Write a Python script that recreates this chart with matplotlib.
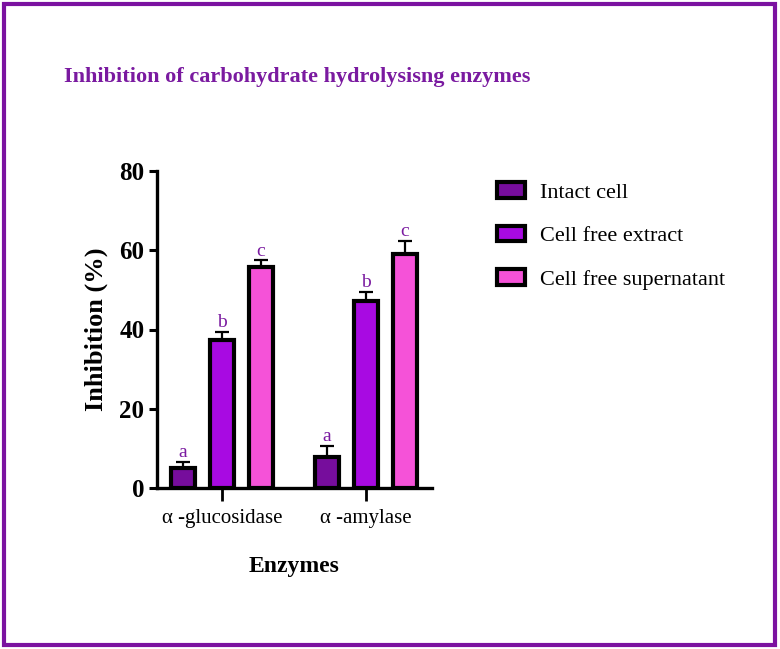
import numpy as np
import matplotlib.pyplot as plt
from matplotlib.patches import Rectangle

plt.rcParams['font.family'] = ['Liberation Serif', 'DejaVu Serif']

enzymes = ['\u03b1 -glucosidase', '\u03b1 -amylase']
series = ['Intact cell', 'Cell free extract', 'Cell free supernatant']
intact = [5.1, 7.9]
extract = [37.3, 47.2]
supernatant = [55.7, 59.1]
intact_err = [1.5, 2.8]
extract_err = [2.1, 2.3]
supernatant_err = [1.8, 3.3]
letters = [['a', 'a'], ['b', 'b'], ['c', 'c']]

colors = ['#760d9c', '#a80ae2', '#f552d8']
purple = '#7a1aa0'

fig = plt.figure(figsize=(7.8, 6.49), dpi=100)
ax = fig.add_axes([157/780, 1 - 488/649, 275/780, 317/649])

x = np.arange(len(enzymes))
offs = [-0.27, 0.0, 0.27]
width = 0.165
vals = [intact, extract, supernatant]
errs = [intact_err, extract_err, supernatant_err]

for i in range(3):
    ax.bar(x + offs[i], vals[i], width, color=colors[i], edgecolor='black',
           linewidth=3, label=series[i], zorder=3)
    ax.errorbar(x + offs[i], vals[i], yerr=[np.zeros(2), errs[i]], fmt='none',
                ecolor='black', elinewidth=1.6, capsize=5, capthick=1.6, zorder=2)
    for j in range(2):
        ax.text(x[j] + offs[i], vals[i][j] + errs[i][j] + 0.1, letters[i][j],
                ha='center', va='bottom', fontsize=14, color=purple)

ax.set_xlim(-0.45, 1.46)
ax.set_ylim(0, 80)
ax.set_yticks([0, 20, 40, 60, 80])
ax.set_xticks(x)
ax.set_xticklabels(enzymes, fontsize=15)
for lab in ax.get_yticklabels():
    lab.set_fontsize(18)
    lab.set_fontweight('bold')
ax.tick_params(axis='y', length=6, width=2.2, pad=3)
ax.tick_params(axis='x', length=9, width=2, pad=6)
for s in ['top', 'right']:
    ax.spines[s].set_visible(False)
for s in ['left', 'bottom']:
    ax.spines[s].set_linewidth(2.4)

ax.set_ylabel('Inhibition (%)', fontsize=19, fontweight='bold', labelpad=8)
ax.set_xlabel('Enzymes', fontsize=17, fontweight='bold', labelpad=20)

fig.text(297/780, 1 - 77/649, 'Inhibition of carbohydrate hydrolysisng enzymes',
         ha='center', va='center', fontsize=16, fontweight='bold', color=purple)

ax.legend(loc='upper left', bbox_to_anchor=(497/780, 1 - 182/649),
          bbox_transform=fig.transFigure, frameon=False, fontsize=16, borderpad=0,
          borderaxespad=0, handlelength=1.25, handleheight=0.7, labelspacing=1.04,
          handletextpad=0.68)

fig.patches.append(Rectangle((4/780, 4/649), 771/780, 641/649, transform=fig.transFigure,
                             fill=False, edgecolor='#7b12a0', linewidth=3))

fig.savefig('out.png', dpi=100)
